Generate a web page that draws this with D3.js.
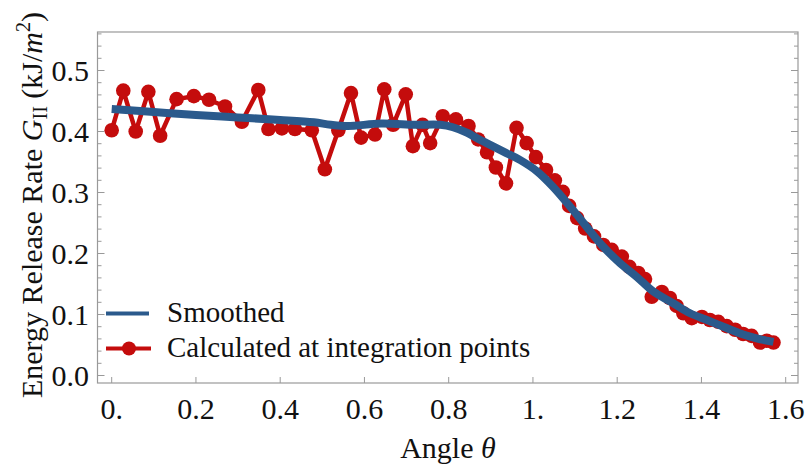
<!DOCTYPE html>
<html>
<head>
<meta charset="utf-8">
<script src="https://cdn.jsdelivr.net/npm/d3@7"></script>
<style>
  body { margin: 0; background: #fff; }
  text { font-family: "Liberation Serif", "Times New Roman", serif; fill: #111; }
</style>
</head>
<body>
<svg width="808" height="470"></svg>
<script>
// calculated values at integration points (angle in rad, G_II in kJ/m^2)
var calcAngle = [0, 0.0275, 0.057, 0.087, 0.115, 0.154, 0.195, 0.231, 0.269, 0.309,
    0.348, 0.372, 0.404, 0.435, 0.475, 0.506, 0.538, 0.568, 0.592, 0.625,
    0.647, 0.668, 0.698, 0.715, 0.738, 0.756, 0.786, 0.817, 0.847, 0.870,
    0.891, 0.912, 0.936, 0.961, 0.985, 1.007, 1.031, 1.052, 1.071, 1.086,
    1.105, 1.124, 1.145, 1.167, 1.187, 1.211, 1.229, 1.250, 1.266, 1.282,
    1.306, 1.325, 1.341, 1.357, 1.377, 1.401, 1.420, 1.440, 1.460, 1.480,
    1.499, 1.519, 1.539, 1.555, 1.571];
var calcG = [0.402, 0.467, 0.400, 0.465, 0.393, 0.453, 0.458, 0.452, 0.441, 0.416,
    0.468, 0.404, 0.405, 0.404, 0.402, 0.338, 0.402, 0.463, 0.390, 0.395,
    0.469, 0.411, 0.461, 0.376, 0.411, 0.381, 0.425, 0.420, 0.409, 0.387,
    0.366, 0.341, 0.315, 0.406, 0.381, 0.358, 0.337, 0.320, 0.301, 0.278,
    0.258, 0.241, 0.228, 0.214, 0.206, 0.195, 0.178, 0.168, 0.158, 0.129,
    0.137, 0.127, 0.114, 0.102, 0.094, 0.096, 0.091, 0.088, 0.081, 0.075,
    0.068, 0.065, 0.054, 0.057, 0.054];

// smoothed curve
var smoothAngle = [0, 0.1, 0.2, 0.3, 0.4, 0.48, 0.52, 0.56, 0.64, 0.72,
    0.78, 0.81, 0.843, 0.875, 0.89, 0.93, 0.97, 1.009, 1.048, 1.088,
    1.127, 1.167, 1.207, 1.246, 1.285, 1.334, 1.373, 1.413, 1.452, 1.492,
    1.531, 1.571];
var smoothG = [0.437, 0.432, 0.427, 0.423, 0.419, 0.415, 0.411, 0.409, 0.413, 0.411,
    0.411, 0.407, 0.398, 0.386, 0.381, 0.367, 0.353, 0.335, 0.309, 0.277,
    0.244, 0.211, 0.184, 0.162, 0.138, 0.118, 0.102, 0.091, 0.080, 0.069,
    0.061, 0.055];

var xTicks = [0, 0.2, 0.4, 0.6, 0.8, 1.0, 1.2, 1.4, 1.6];
var xTickLabels = ["0.", "0.2", "0.4", "0.6", "0.8", "1.", "1.2", "1.4", "1.6"];
var yTicks = [0, 0.1, 0.2, 0.3, 0.4, 0.5];
var yTickLabels = ["0.0", "0.1", "0.2", "0.3", "0.4", "0.5"];
var seriesNames = ["Smoothed", "Calculated at integration points"];

var blue = "#2b5a8c",
    red = "#c40c0c",
    frameColor = "#999";

var svg = d3.select("svg");

// frame box
var fl = 97.5, fr = 798, ft = 32, fb = 383;

var x = d3.scaleLinear().domain([0, 1.6]).range([111.7, 785.7]);
var y = d3.scaleLinear().domain([0, 0.5]).range([375.5, 70.5]);

svg.append("rect")
    .attr("x", fl).attr("y", ft)
    .attr("width", fr - fl).attr("height", fb - ft)
    .attr("fill", "#fff")
    .attr("stroke", frameColor)
    .attr("stroke-width", 1.2);

// y ticks (major + minor), left and right
var yMinor = d3.range(0, 0.561, 0.02);
function isMajor(d) { return Math.abs(d * 10 - Math.round(d * 10)) < 1e-6; }
svg.append("g").selectAll("line")
    .data(yMinor)
    .join("line")
    .attr("x1", fl).attr("x2", function(d) { return fl + (isMajor(d) ? 7 : 4); })
    .attr("y1", function(d) { return y(d); })
    .attr("y2", function(d) { return y(d); })
    .attr("stroke", frameColor);
svg.append("g").selectAll("line")
    .data(yMinor)
    .join("line")
    .attr("x1", fr).attr("x2", function(d) { return fr - (isMajor(d) ? 7 : 4); })
    .attr("y1", function(d) { return y(d); })
    .attr("y2", function(d) { return y(d); })
    .attr("stroke", frameColor);

// x ticks
svg.append("g").selectAll("line")
    .data(xTicks)
    .join("line")
    .attr("x1", function(d) { return x(d); })
    .attr("x2", function(d) { return x(d); })
    .attr("y1", fb).attr("y2", fb - 6)
    .attr("stroke", frameColor);

svg.append("g").selectAll("text")
    .data(xTicks)
    .join("text")
    .attr("x", function(d) { return x(d); })
    .attr("y", 419)
    .attr("text-anchor", "middle")
    .style("font-size", "30px")
    .text(function(d, i) { return xTickLabels[i]; });

svg.append("g").selectAll("text")
    .data(yTicks)
    .join("text")
    .attr("x", 89)
    .attr("y", function(d) { return y(d) + 10; })
    .attr("text-anchor", "end")
    .style("font-size", "30px")
    .text(function(d, i) { return yTickLabels[i]; });

// axis labels
var xl = svg.append("text")
    .attr("x", 448).attr("y", 458)
    .attr("text-anchor", "middle")
    .style("font-size", "30px");
xl.append("tspan").text("Angle ");
xl.append("tspan").style("font-style", "italic").text("\u03b8");

var yl = svg.append("text")
    .attr("transform", "translate(42,205) rotate(-90)")
    .attr("text-anchor", "middle")
    .style("font-size", "30px");
yl.append("tspan").text("Energy Release Rate ");
yl.append("tspan").style("font-style", "italic").text("G");
yl.append("tspan").style("font-size", "20px").attr("dy", 5).text("II");
yl.append("tspan").attr("dy", -5).text(" (kJ/");
yl.append("tspan").style("font-style", "italic").text("m");
yl.append("tspan").style("font-size", "20px").attr("dy", -12).text("2");
yl.append("tspan").attr("dy", 12).text(")");

// calculated series
var calc = calcAngle.map(function(a, i) { return [a, calcG[i]]; });
var smooth = smoothAngle.map(function(a, i) { return [a, smoothG[i]]; });

var line = d3.line()
    .x(function(d) { return x(d[0]); })
    .y(function(d) { return y(d[1]); });

svg.append("path")
    .datum(calc)
    .attr("d", line)
    .attr("fill", "none")
    .attr("stroke", red)
    .attr("stroke-width", 4.5)
    .attr("stroke-linejoin", "round");

svg.append("g").selectAll("circle")
    .data(calc)
    .join("circle")
    .attr("cx", function(d) { return x(d[0]); })
    .attr("cy", function(d) { return y(d[1]); })
    .attr("r", 7.3)
    .attr("fill", red);

svg.append("path")
    .datum(smooth)
    .attr("d", line.curve(d3.curveCatmullRom))
    .attr("fill", "none")
    .attr("stroke", blue)
    .attr("stroke-width", 8)
    .attr("stroke-linejoin", "round");

// legend
svg.append("line")
    .attr("x1", 106).attr("x2", 149)
    .attr("y1", 313.5).attr("y2", 313.5)
    .attr("stroke", blue).attr("stroke-width", 4);
svg.append("line")
    .attr("x1", 106).attr("x2", 151)
    .attr("y1", 348.5).attr("y2", 348.5)
    .attr("stroke", red).attr("stroke-width", 4);
svg.append("circle")
    .attr("cx", 129).attr("cy", 348.5).attr("r", 7)
    .attr("fill", red);

svg.append("g").selectAll("text")
    .data(seriesNames)
    .join("text")
    .attr("x", 167)
    .attr("y", function(d, i) { return 322 + i * 35; })
    .style("font-size", "29px")
    .text(function(d) { return d; });
</script>
</body>
</html>
